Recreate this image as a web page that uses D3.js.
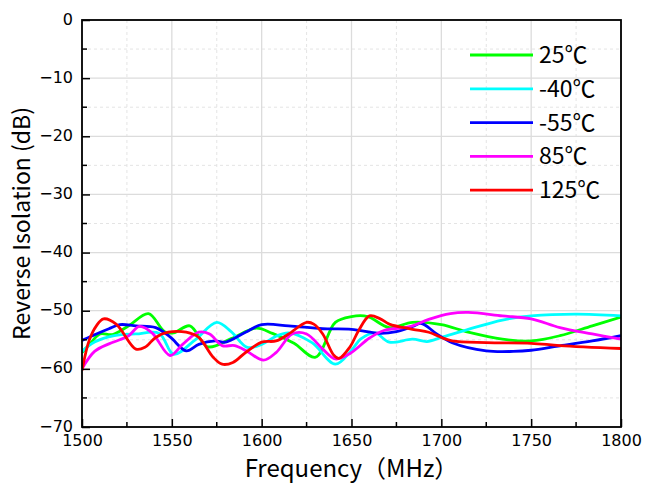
<!DOCTYPE html>
<html lang="en">
<head>
<meta charset="UTF-8">
<title>Reverse Isolation vs Frequency</title>
<script src="https://d3js.org/d3.v7.min.js"></script>
<style>
  body { margin: 0; background: #fff; }
  svg { display: block; }
  .axis-title, .legend text { font-family: "Noto Sans CJK SC", "Noto Sans", sans-serif; fill: #000; }
</style>
</head>
<body>
<svg id="chart"></svg>
<script>
// series labels, in legend order
const labels = ["25℃", "-40℃", "-55℃", "85℃", "125℃"];
const colors = ["#00ff00", "#00ffff", "#0000ff", "#ff00ff", "#ff0000"];

// [frequency MHz, reverse isolation dB]
const s25 = [[1500,-57.2],[1505,-55.5],[1510,-54.0],[1517,-54.1],[1526,-52.6],[1537,-50.5],[1546,-53.6],[1551,-53.8],[1560,-52.6],[1570,-56.2],[1583,-54.8],[1597,-53.0],[1606,-53.9],[1618,-55.6],[1630,-58.0],[1641,-52.0],[1650,-51.0],[1659,-51.0],[1671,-52.9],[1684,-52.0],[1700,-52.4],[1715,-53.7],[1734,-54.9],[1750,-55.2],[1766,-54.3],[1784,-52.6],[1800,-51.1]];
const sM40 = [[1500,-57.0],[1507,-55.4],[1518,-54.3],[1530,-54.0],[1543,-53.9],[1551,-57.5],[1563,-55.0],[1575,-52.0],[1583,-53.6],[1592,-56.3],[1600,-55.8],[1608,-54.4],[1615,-53.8],[1628,-55.5],[1641,-59.2],[1650,-56.8],[1655,-54.9],[1663,-53.8],[1671,-55.4],[1684,-54.9],[1692,-55.3],[1700,-54.6],[1715,-53.2],[1734,-51.6],[1750,-50.9],[1775,-50.6],[1800,-50.9]];
const sM55 = [[1500,-55.1],[1508,-54.0],[1515,-53.1],[1521,-52.4],[1530,-52.6],[1541,-52.9],[1549,-54.5],[1558,-56.9],[1565,-55.8],[1574,-55.2],[1580,-55.4],[1591,-53.7],[1600,-52.4],[1615,-52.6],[1634,-53.1],[1650,-53.2],[1666,-53.9],[1675,-53.6],[1684,-52.7],[1689,-52.2],[1697,-53.9],[1706,-55.5],[1725,-56.9],[1740,-57.0],[1750,-56.8],[1765,-56.1],[1784,-55.2],[1800,-54.3]];
const s85 = [[1500,-60.0],[1507,-57.0],[1515,-55.7],[1521,-55.0],[1526,-54.3],[1532,-52.7],[1539,-53.8],[1549,-57.7],[1556,-55.8],[1565,-53.7],[1571,-54.0],[1578,-56.0],[1585,-56.0],[1592,-57.0],[1601,-58.5],[1608,-57.2],[1617,-54.0],[1625,-54.0],[1634,-56.6],[1641,-58.3],[1649,-57.4],[1660,-54.7],[1668,-53.4],[1683,-52.7],[1693,-51.5],[1705,-50.5],[1715,-50.3],[1734,-50.9],[1750,-51.4],[1766,-52.9],[1784,-54.0],[1800,-54.9]];
const s125 = [[1500,-60.3],[1504,-55.1],[1508,-52.6],[1512,-51.4],[1519,-52.3],[1530,-56.6],[1535,-56.3],[1541,-54.6],[1548,-53.7],[1558,-53.7],[1565,-54.6],[1573,-58.0],[1578,-59.2],[1584,-58.9],[1591,-57.2],[1600,-55.4],[1608,-55.2],[1615,-54.0],[1625,-52.0],[1629,-52.3],[1634,-54.0],[1640,-57.6],[1643,-58.2],[1649,-56.3],[1654,-53.4],[1660,-50.9],[1666,-51.4],[1671,-52.3],[1684,-53.2],[1693,-53.7],[1700,-54.6],[1706,-55.2],[1725,-55.5],[1750,-55.6],[1766,-56.0],[1800,-56.5]];

const seriesData = [s25, sM40, sM55, s85, s125];

const xTicks = [1500, 1550, 1600, 1650, 1700, 1750, 1800];
const yTicks = [0, -10, -20, -30, -40, -50, -60, -70];

const W = 657, H = 484;
const margin = { top: 20, right: 36, bottom: 57, left: 82 };
const width = W - margin.left - margin.right;
const height = H - margin.top - margin.bottom;

const svg = d3.select("#chart").attr("width", W).attr("height", H);
const g = svg.append("g").attr("transform", `translate(${margin.left},${margin.top})`);

const x = d3.scaleLinear().domain([1500, 1800]).range([0, width]);
const y = d3.scaleLinear().domain([-70, 0]).range([height, 0]);

// minor grid (dashed) at half steps
const xMinor = d3.range(1525, 1800, 50);
const yMinor = d3.range(-65, 0, 10);
g.selectAll(".gx-minor").data(xMinor).enter().append("line")
  .attr("x1", d => x(d)).attr("x2", d => x(d)).attr("y1", 0).attr("y2", height)
  .attr("stroke", "#e4e4e4").attr("stroke-width", 1).attr("stroke-dasharray", "3,3");
g.selectAll(".gy-minor").data(yMinor).enter().append("line")
  .attr("y1", d => y(d)).attr("y2", d => y(d)).attr("x1", 0).attr("x2", width)
  .attr("stroke", "#e4e4e4").attr("stroke-width", 1).attr("stroke-dasharray", "3,3");

// major grid
g.selectAll(".gx").data(xTicks).enter().append("line")
  .attr("x1", d => x(d)).attr("x2", d => x(d)).attr("y1", 0).attr("y2", height)
  .attr("stroke", "#dcdcdc").attr("stroke-width", 1.3);
g.selectAll(".gy").data(yTicks).enter().append("line")
  .attr("y1", d => y(d)).attr("y2", d => y(d)).attr("x1", 0).attr("x2", width)
  .attr("stroke", "#dcdcdc").attr("stroke-width", 1.3);

// curves
g.append("clipPath").attr("id", "clip").append("rect")
  .attr("width", width).attr("height", height);

const line = d3.line()
  .x(d => x(d[0]))
  .y(d => y(d[1]))
  .curve(d3.curveCatmullRom.alpha(0.5));

g.append("g").attr("clip-path", "url(#clip)")
  .selectAll("path").data(seriesData).enter().append("path")
  .attr("d", line)
  .attr("fill", "none")
  .attr("stroke", (d, i) => colors[i])
  .attr("stroke-width", 2.8)
  .attr("stroke-linejoin", "round");

// axes with inward ticks
const xAxis = g.append("g").attr("transform", `translate(0,${height})`)
  .call(d3.axisBottom(x).tickValues(xTicks).tickFormat(d3.format("d")).tickSizeInner(-8).tickSizeOuter(0).tickPadding(8));
const yAxis = g.append("g")
  .call(d3.axisLeft(y).tickValues(yTicks).tickSizeInner(-8).tickSizeOuter(0).tickPadding(9));
[xAxis, yAxis].forEach(a => {
  a.attr("font-family", "'DejaVu Sans', sans-serif").attr("font-size", 16);
  a.select(".domain").remove();
  a.selectAll(".tick line").attr("stroke", "#000").attr("stroke-width", 1.5);
  a.selectAll(".tick text").attr("fill", "#000");
});
yAxis.selectAll(".tick text").attr("dy", "0.25em");

// minor ticks
g.selectAll(".mx").data(xMinor).enter().append("line")
  .attr("x1", d => x(d)).attr("x2", d => x(d)).attr("y1", height).attr("y2", height - 5)
  .attr("stroke", "#000").attr("stroke-width", 1.5);
g.selectAll(".my").data(yMinor).enter().append("line")
  .attr("y1", d => y(d)).attr("y2", d => y(d)).attr("x1", 0).attr("x2", 5)
  .attr("stroke", "#000").attr("stroke-width", 1.5);

// frame
g.append("rect").attr("width", width).attr("height", height)
  .attr("fill", "none").attr("stroke", "#000").attr("stroke-width", 1.8);

// axis titles
svg.append("text").attr("class", "axis-title")
  .attr("x", margin.left + width / 2).attr("y", 477)
  .attr("text-anchor", "middle").attr("font-size", 24)
  .text("Frequency（MHz）");
svg.append("text").attr("class", "axis-title")
  .attr("transform", `translate(30,${margin.top + height / 2}) rotate(-90)`)
  .attr("text-anchor", "middle").attr("font-size", 23)
  .text("Reverse Isolation (dB)");

// legend
const legend = svg.append("g").attr("class", "legend");
labels.forEach((lab, i) => {
  const ly = 55 + i * 33.8;
  legend.append("line").attr("x1", 470).attr("x2", 533).attr("y1", ly).attr("y2", ly)
    .attr("stroke", colors[i]).attr("stroke-width", 2.8);
  legend.append("text").attr("x", 539).attr("y", ly).attr("dy", "0.35em")
    .attr("font-size", 23).text(lab);
});
</script>
</body>
</html>
